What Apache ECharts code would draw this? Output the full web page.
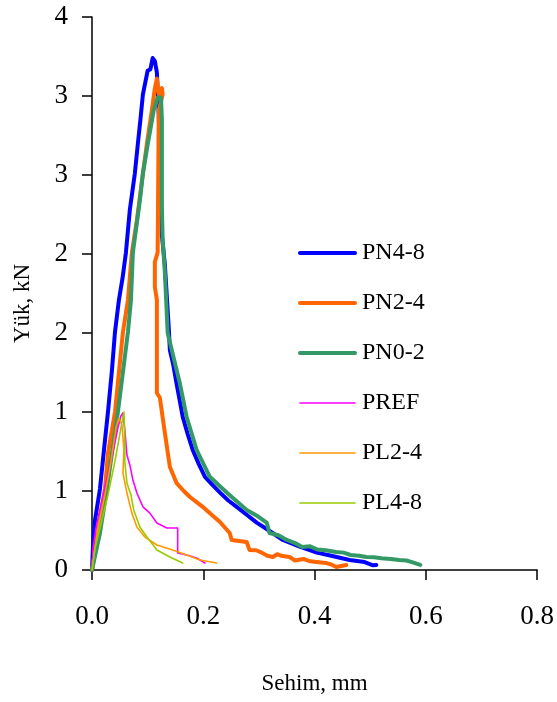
<!DOCTYPE html>
<html>
<head>
<meta charset="utf-8">
<script src="https://cdn.jsdelivr.net/npm/echarts@6/dist/echarts.min.js"></script>
<style>html,body{margin:0;padding:0;background:#fff}#c{width:557px;height:702px}</style>
</head>
<body>
<div id="c"></div>
<script>
// Series names
const seriesNames = ['PN4-8', 'PN2-4', 'PN0-2', 'PREF', 'PL2-4', 'PL4-8'];
// Deflection (mm), load (kN) pairs
const pn48 = [[0,0],[0.0018,0.158],[0.0054,0.316],[0.0143,0.513],[0.0215,0.759],[0.0287,1.0],[0.0359,1.266],[0.0413,1.506],[0.0484,1.709],[0.055,1.85],[0.061,2.01],[0.068,2.28],[0.077,2.51],[0.0825,2.70],[0.087,2.85],[0.0915,3.01],[0.100,3.16],[0.105,3.17],[0.109,3.24],[0.113,3.22],[0.1166,3.15],[0.120,2.88],[0.1256,2.12],[0.131,1.93],[0.138,1.53],[0.140,1.39],[0.146,1.30],[0.152,1.18],[0.163,0.97],[0.172,0.86],[0.181,0.76],[0.192,0.67],[0.203,0.59],[0.216,0.54],[0.230,0.49],[0.245,0.44],[0.260,0.40],[0.278,0.35],[0.296,0.30],[0.318,0.25],[0.343,0.19],[0.372,0.15],[0.404,0.11],[0.430,0.09],[0.463,0.063],[0.490,0.05],[0.505,0.03],[0.511,0.032]];
const pn24 = [[0,0],[0.0108,0.234],[0.0233,0.513],[0.0287,0.74],[0.0413,1.0],[0.0556,1.506],[0.0646,1.709],[0.0717,2.01],[0.0807,2.215],[0.0915,2.51],[0.0987,2.70],[0.1076,2.91],[0.113,3.05],[0.1166,3.11],[0.120,3.01],[0.1256,3.05],[0.127,3.01],[0.120,2.91],[0.118,2.01],[0.113,1.95],[0.113,1.79],[0.1166,1.71],[0.1166,1.12],[0.122,1.09],[0.131,0.867],[0.140,0.652],[0.152,0.55],[0.165,0.50],[0.176,0.462],[0.188,0.43],[0.199,0.40],[0.215,0.35],[0.230,0.304],[0.2475,0.234],[0.251,0.19],[0.278,0.177],[0.283,0.127],[0.295,0.125],[0.305,0.11],[0.315,0.09],[0.325,0.082],[0.333,0.10],[0.340,0.09],[0.355,0.082],[0.365,0.06],[0.380,0.07],[0.392,0.055],[0.404,0.051],[0.420,0.045],[0.430,0.035],[0.439,0.019],[0.457,0.032]];
const pn02 = [[0,0],[0.0143,0.234],[0.0269,0.513],[0.0359,0.74],[0.0466,1.0],[0.0646,1.506],[0.070,1.709],[0.0735,2.01],[0.0861,2.34],[0.0915,2.51],[0.1004,2.70],[0.111,2.91],[0.118,2.99],[0.124,2.99],[0.1256,2.85],[0.1256,2.30],[0.127,2.09],[0.131,1.88],[0.136,1.50],[0.1435,1.39],[0.158,1.18],[0.170,0.97],[0.188,0.76],[0.2117,0.59],[0.242,0.49],[0.278,0.38],[0.298,0.34],[0.314,0.30],[0.319,0.234],[0.335,0.22],[0.350,0.19],[0.365,0.17],[0.378,0.146],[0.392,0.15],[0.405,0.13],[0.420,0.125],[0.439,0.114],[0.452,0.11],[0.465,0.095],[0.480,0.09],[0.493,0.082],[0.507,0.08],[0.520,0.075],[0.537,0.07],[0.552,0.063],[0.565,0.06],[0.575,0.05],[0.590,0.032]];
const pref = [[0,0],[0.0018,0.139],[0.0072,0.266],[0.0197,0.475],[0.034,0.684],[0.0466,0.90],[0.052,0.975],[0.0556,0.994],[0.059,0.886],[0.0628,0.728],[0.068,0.665],[0.0735,0.57],[0.0807,0.487],[0.0915,0.40],[0.104,0.36],[0.1166,0.297],[0.1345,0.266],[0.154,0.266],[0.154,0.108],[0.170,0.095],[0.188,0.076],[0.203,0.044]];
const pl24 = [[0,0],[0.0108,0.266],[0.0233,0.475],[0.034,0.684],[0.043,0.90],[0.0484,0.962],[0.0538,0.918],[0.0574,0.76],[0.0556,0.614],[0.0628,0.487],[0.0717,0.36],[0.0807,0.272],[0.095,0.209],[0.1166,0.158],[0.145,0.127],[0.170,0.095],[0.194,0.063],[0.224,0.044]];
const pl48 = [[0,0],[0.0054,0.139],[0.0143,0.266],[0.0287,0.475],[0.041,0.684],[0.052,0.90],[0.0574,1.0],[0.059,0.82],[0.059,0.684],[0.0628,0.55],[0.070,0.475],[0.075,0.38],[0.086,0.272],[0.0987,0.209],[0.1166,0.127],[0.140,0.082],[0.163,0.044]];
// Axis ticks
const xTicks = [0, 0.2, 0.4, 0.6, 0.8];
const yTicks = [0, 0.5, 1, 1.5, 2, 2.5, 3, 3.5];

const colors = ['#0000FF', '#FF6600', '#339966', '#FF00FF', '#FF9900', '#99CC00'];
const widths = [4, 4, 4, 1.6, 1.6, 1.6];
const datasets = [pn48, pn24, pn02, pref, pl24, pl48];
const font = '"Liberation Serif", "Times New Roman", serif';

const chart = echarts.init(document.getElementById('c'), null, {renderer: 'canvas'});
chart.setOption({
  animation: false,
  backgroundColor: '#fff',
  grid: {left: 92, right: 19, top: 17, bottom: 132, containLabel: false},
  xAxis: {
    type: 'value', min: xTicks[0], max: xTicks[xTicks.length - 1], interval: 0.2,
    name: 'Sehim, mm', nameLocation: 'middle', nameGap: 102,
    nameTextStyle: {fontFamily: font, fontSize: 23, color: '#000'},
    axisLine: {show: true, onZero: false, lineStyle: {color: '#000', width: 1.5}},
    axisTick: {show: true, inside: false, length: 10, lineStyle: {color: '#000', width: 1.5}},
    axisLabel: {margin: 33, fontFamily: font, fontSize: 27, color: '#000', formatter: v => v.toFixed(1)},
    splitLine: {show: false}
  },
  yAxis: {
    type: 'value', min: yTicks[0], max: yTicks[yTicks.length - 1], interval: 0.5,
    name: 'Yük, kN', nameLocation: 'middle', nameGap: 58, nameRotate: 90,
    nameTextStyle: {fontFamily: font, fontSize: 23, color: '#000', padding: [0, 20, 0, 0]},
    axisLine: {show: true, onZero: false, lineStyle: {color: '#000', width: 1.5}},
    axisTick: {show: true, inside: false, length: 10, lineStyle: {color: '#000', width: 1.5}},
    axisLabel: {margin: 24, fontFamily: font, fontSize: 27, color: '#000', formatter: v => String(Math.round(v))},
    splitLine: {show: false}
  },
  legend: {
    orient: 'vertical', left: 298, top: 241, padding: 0,
    itemWidth: 55, itemHeight: 14, itemGap: 26,
    itemStyle: {opacity: 0},
    textStyle: {fontFamily: font, fontSize: 24, color: '#000', padding: [0, 0, 0, 2]},
    data: seriesNames.map((n, i) => ({name: n, lineStyle: {width: widths[i], color: colors[i], cap: 'round'}}))
  },
  series: seriesNames.map((n, i) => ({
    name: n, type: 'line', data: datasets[i], showSymbol: false, symbol: 'none',
    lineStyle: {color: colors[i], width: widths[i], join: 'round', cap: 'round'},
    itemStyle: {color: colors[i]},
    z: 2 + i
  }))
});
</script>
</body>
</html>
